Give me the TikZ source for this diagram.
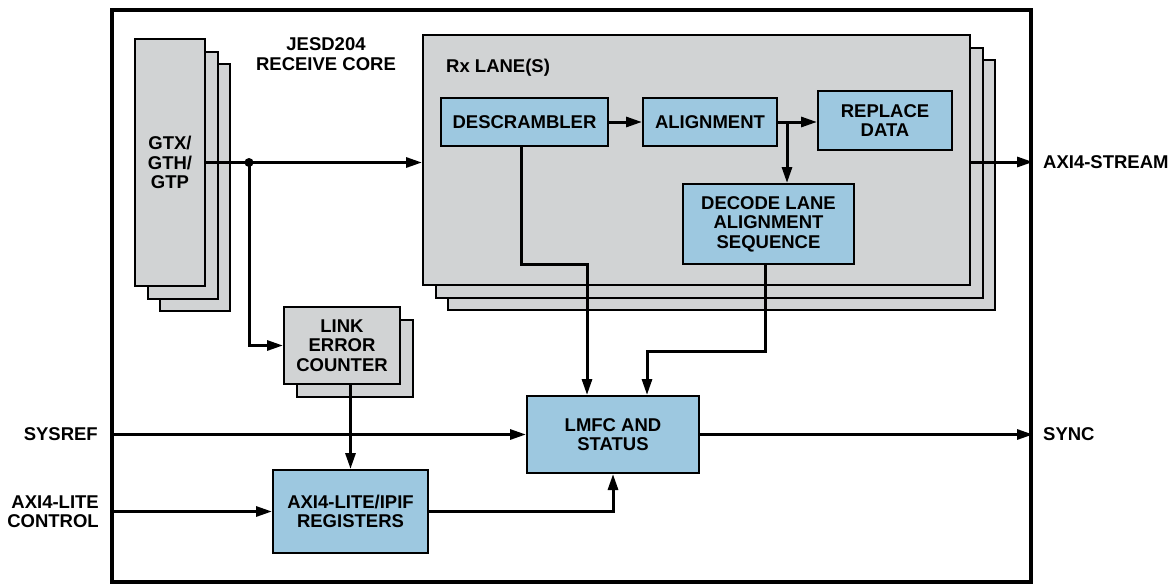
\documentclass[tikz,border=0pt]{standalone}
\usepackage{fontspec}
\setmainfont{Liberation Sans}
\usetikzlibrary{arrows.meta}
\definecolor{boxgray}{HTML}{D1D3D4}
\definecolor{boxblue}{HTML}{9DC8E0}
\tikzset{
  graybox/.style={draw=black, line width=2pt, fill=boxgray, inner sep=0pt, align=center},
  bluebox/.style={draw=black, line width=2pt, fill=boxblue, inner sep=0pt, align=center},
  wire/.style={line width=3pt, line join=miter},
  conn/.style={wire, -{Triangle[length=16pt,width=10pt]}},
  lbl/.style={inner sep=0pt, align=center},
}
\begin{document}
\begin{tikzpicture}[x=1pt, y=-1pt, font=\fontsize{18.5}{19.5}\selectfont\bfseries]
\useasboundingbox (0,0) rectangle (1173,584);

% outer core boundary
\node[draw=black, line width=4pt, minimum width=919pt, minimum height=572pt, inner sep=0pt] (core) at (571.5,296) {};
\node[lbl] (title) at (326,54) {JESD204\\RECEIVE CORE};

% transceiver stack
\node[graybox, minimum width=70pt, minimum height=247pt] (gtx3) at (195,187.5) {};
\node[graybox, minimum width=70pt, minimum height=247pt] (gtx2) at (182.5,175) {};
\node[graybox, minimum width=70pt, minimum height=247pt] (gtx) at (170,162.5) {GTX/\\GTH/\\GTP};

% receive lane stack
\node[graybox, minimum width=547pt, minimum height=250pt] (rx3) at (721.5,185) {};
\node[graybox, minimum width=547pt, minimum height=250pt] (rx2) at (709,172.5) {};
\node[graybox, minimum width=547pt, minimum height=250pt] (rx) at (696.5,160) {};
\node[lbl, anchor=west] (rxlabel) at (446,68) {Rx LANE(S)};

\node[bluebox, minimum width=167pt, minimum height=48pt] (desc) at (524.5,122) {DESCRAMBLER};
\node[bluebox, minimum width=134pt, minimum height=48pt] (align) at (710,122) {ALIGNMENT};
\node[bluebox, minimum width=134pt, minimum height=59pt] (replace) at (885,120.5) {REPLACE\\DATA};
\node[bluebox, minimum width=171pt, minimum height=80pt] (decode) at (768.5,224) {DECODE LANE\\ALIGNMENT\\SEQUENCE};

% link error counter stack
\node[graybox, minimum width=116pt, minimum height=77pt] (lec2) at (355,358) {};
\node[graybox, minimum width=116pt, minimum height=77pt] (lec) at (342,345.5) {LINK\\ERROR\\COUNTER};

\node[bluebox, minimum width=155pt, minimum height=83pt] (axi) at (350.5,511.5) {AXI4-LITE/IPIF\\REGISTERS};
\node[bluebox, minimum width=172pt, minimum height=77pt] (lmfc) at (613,434.5) {LMFC AND\\STATUS};

% external port labels
\node[lbl, anchor=east] (sysref) at (98,434) {SYSREF};
\node[lbl, anchor=east, align=right] (axictl) at (99,511.5) {AXI4-LITE\\CONTROL};
\node[lbl, anchor=west] (stream) at (1043,162) {AXI4-STREAM};
\node[lbl, anchor=west] (sync) at (1043,434) {SYNC};

% data path
\coordinate (split) at (249,162.5);
\draw[conn] (gtx.east) -- (gtx.east -| rx.west);
\fill (split) circle (4.5pt);
\draw[conn] (split) |- (lec.west);

\draw[conn] (desc.east) -- (align.west);
\coordinate (tap) at (787,122);
\draw[conn] (align.east) -- (align.east -| replace.west);
\draw[conn] (tap) -- (tap |- decode.north);
\draw[conn] (rx.east |- stream.west) -- (core.east |- stream.west);

% status paths into LMFC
\coordinate (d1) at (521,264);
\coordinate (d2) at (587,264);
\draw[conn] (d1 |- desc.south) -- (d1) -- (d2) -- (d2 |- lmfc.north);
\coordinate (s1) at (765,351);
\coordinate (s2) at (647,351);
\draw[conn] (s1 |- decode.south) -- (s1) -- (s2) -- (s2 |- lmfc.north);

\draw[conn] (axi.north |- lec.south) -- (axi.north);
\draw[conn] (lmfc.west -| core.west) -- (lmfc.west);
\draw[conn] (axi.west -| core.west) -- (axi.west);
\draw[conn] (axi.east) -| (lmfc.south);
\draw[conn] (lmfc.east) -- (lmfc.east -| core.east);
\end{tikzpicture}
\end{document}
